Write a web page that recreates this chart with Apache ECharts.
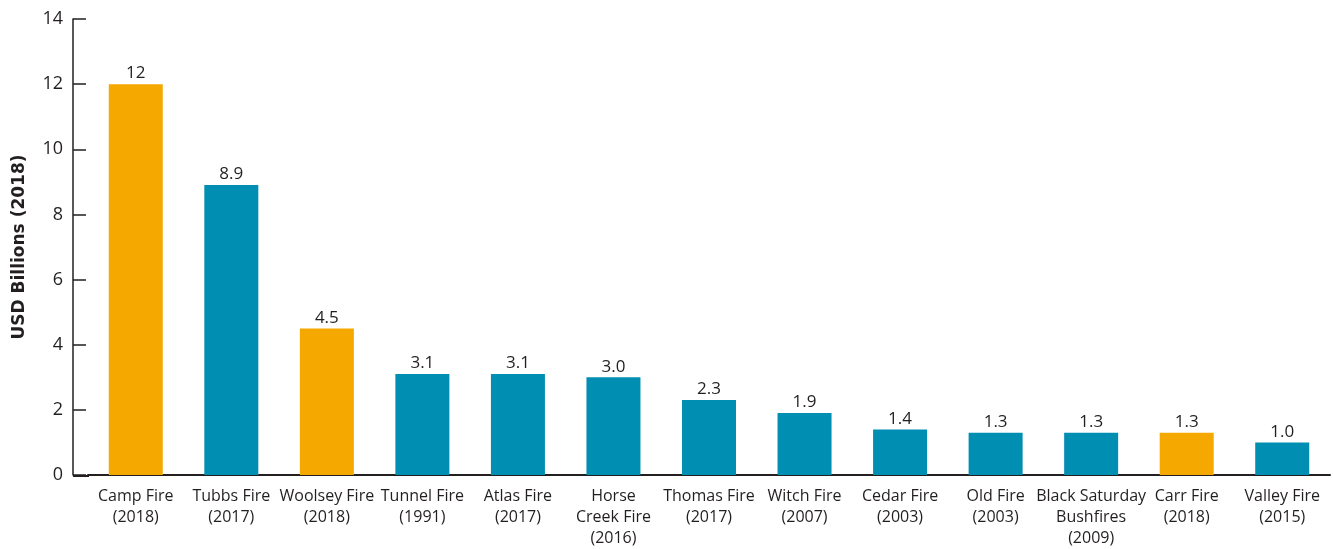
<!DOCTYPE html>
<html>
<head>
<meta charset="utf-8">
<script src="https://cdn.jsdelivr.net/npm/echarts@6/dist/echarts.min.js"></script>
<style>
	html, body { margin: 0; padding: 0; background: #fff; }
	#chart { width: 1333px; height: 549px; }
</style>
</head>
<body>
<div id="chart"></div>
<script>
// fire names, one line per row of the axis label
const categories = [
	'Camp Fire\n(2018)',
	'Tubbs Fire\n(2017)',
	'Woolsey Fire\n(2018)',
	'Tunnel Fire\n(1991)',
	'Atlas Fire\n(2017)',
	'Horse\nCreek Fire\n(2016)',
	'Thomas Fire\n(2017)',
	'Witch Fire\n(2007)',
	'Cedar Fire\n(2003)',
	'Old Fire\n(2003)',
	'Black Saturday\nBushfires\n(2009)',
	'Carr Fire\n(2018)',
	'Valley Fire\n(2015)'
];
const losses = [12, 8.9, 4.5, 3.1, 3.1, 3.0, 2.3, 1.9, 1.4, 1.3, 1.3, 1.3, 1.0];
// fires from 2018 are highlighted
const highlighted = [true, false, true, false, false, false, false, false, false, false, false, true, false];
const yTicks = [0, 2, 4, 6, 8, 10, 12, 14];

const ORANGE = '#F4A800';
const TEAL = '#008EB2';
const INK = '#231F20';
const FONT = '"Open Sans", "Noto Sans", sans-serif';

let chart = echarts.init(document.getElementById('chart'));

let option = {
	animation: false,
	textStyle: { fontFamily: FONT, color: INK },
	grid: { left: 88, right: 3, top: 19, bottom: 73, containLabel: false },
	xAxis: {
		type: 'category',
		data: categories,
		axisLine: { lineStyle: { color: INK, width: 2 } },
		axisTick: { inside: true, length: 11, lineStyle: { color: INK, width: 1.5 } },
		axisLabel: { color: INK, fontFamily: FONT, fontSize: 16, lineHeight: 21, margin: 11, interval: 0 }
	},
	yAxis: {
		type: 'value',
		min: yTicks[0],
		max: yTicks[yTicks.length - 1],
		interval: 2,
		offset: 15,
		name: 'USD Billions (2018)',
		nameLocation: 'middle',
		nameGap: 45,
		nameTextStyle: { fontFamily: '"DejaVu Sans", sans-serif', fontSize: 17, fontWeight: 'bold', color: INK },
		splitLine: { show: false },
		axisLine: { show: true, lineStyle: { color: INK, width: 1.5 } },
		axisTick: { show: true, inside: true, length: 13, lineStyle: { color: INK, width: 1.5 } },
		axisLabel: { color: INK, fontFamily: FONT, fontSize: 18, margin: 10 }
	},
	series: [{
		type: 'bar',
		barWidth: 54,
		data: losses.map((v, i) => ({
			value: v,
			itemStyle: { color: highlighted[i] ? ORANGE : TEAL }
		})),
		label: {
			show: true,
			position: 'top',
			distance: 2,
			color: INK,
			fontFamily: FONT,
			fontSize: 17,
			formatter: (p) => p.value >= 10 ? String(p.value) : p.value.toFixed(1)
		}
	}],
	// the x axis line runs on to meet the offset y axis
	graphic: [{
		type: 'line',
		shape: { x1: 73, y1: 476, x2: 89, y2: 476 },
		style: { stroke: INK, lineWidth: 2 }
	}]
};

chart.setOption(option);
</script>
</body>
</html>
